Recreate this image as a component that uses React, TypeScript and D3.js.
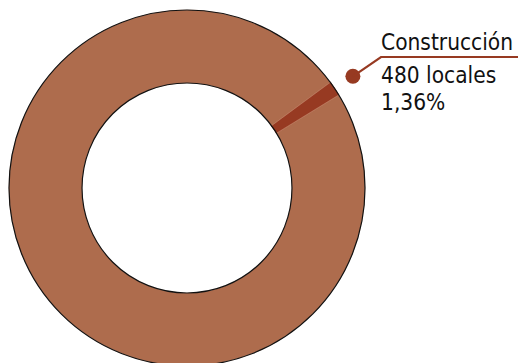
import React from "react";
import * as d3 from "d3";

const categories = ["Construcción", "Resto"];
const values = [480, 34814];
const labelLines = ["Construcción", "480 locales", "1,36%"];
const colors = ["#973A22", "#AE6C4D"];

const W = 518, H = 363;
const cx = 187, cy = 188, rOuter = 178, rInner = 105;
const startAngle = (53.6 * Math.PI) / 180;

export default function App() {
  const pie = d3
    .pie<number>()
    .sort(null)
    .value((d) => d)
    .startAngle(startAngle)
    .endAngle(startAngle + 2 * Math.PI);
  const arcs = pie(values);
  const arc = d3.arc<d3.PieArcDatum<number>>().innerRadius(rInner).outerRadius(rOuter);
  const c = arcs[0];
  const mid = (c.startAngle + c.endAngle) / 2;
  const dotR = 200;
  const dx = Math.sin(mid) * dotR;
  const dy = -Math.cos(mid) * dotR;
  const dotX = cx + dx, dotY = cy + dy;
  const elbowX = 381, lineY = 57;
  const font = "'DejaVu Sans Condensed', 'Roboto', sans-serif";
  return (
    <svg width={W} height={H} style={{ position: "absolute", left: 0, top: 0, display: "block" }}>
      <rect width={W} height={H} fill="#fff" />
      <g transform={`translate(${cx},${cy})`}>
        {arcs.map((a, i) => (
          <path key={categories[i]} d={arc(a) || ""} fill={colors[i]} stroke={i === 0 ? colors[0] : "#d9a58c"} strokeWidth={i === 0 ? 1.2 : 0.4} />
        ))}
        <circle r={rOuter} fill="none" stroke="#111" strokeWidth={1.2} />
        <circle r={rInner} fill="none" stroke="#111" strokeWidth={1.2} />
      </g>
      <circle cx={dotX} cy={dotY} r={7.5} fill={colors[0]} />
      <polyline
        points={`${dotX},${dotY} ${elbowX},${lineY} ${W},${lineY}`}
        fill="none"
        stroke={colors[0]}
        strokeWidth={2.2}
      />
      <g fontFamily={font} fontSize={22.5} fill="#111">
        <text x={elbowX} y={50}>{labelLines[0]}</text>
        <text x={elbowX} y={83}>{labelLines[1]}</text>
        <text x={elbowX} y={110}>{labelLines[2]}</text>
      </g>
    </svg>
  );
}
